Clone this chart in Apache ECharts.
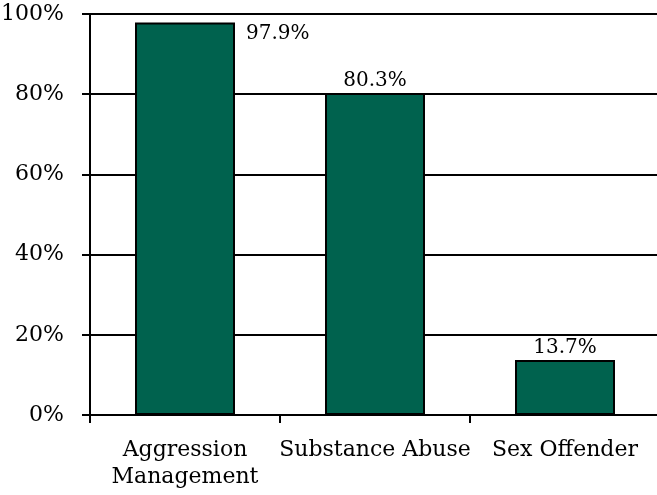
<!DOCTYPE html>
<html><head><meta charset="utf-8">
<script src="https://cdn.jsdelivr.net/npm/echarts@6/dist/echarts.min.js"></script>
<style>html,body{margin:0;padding:0;background:#fff}#c{width:657px;height:495px}</style>
</head><body><div id="c"></div>
<script>
var categories = ["Aggression\nManagement", "Substance Abuse", "Sex Offender"];
var values = [97.9, 80.3, 13.7];
var yTicks = [0, 20, 40, 60, 80, 100];

var FONT = "DejaVu Serif";
var chart = echarts.init(document.getElementById('c'), null, {renderer: 'canvas'});
var data = values.map(function (v, i) {
  var item = {value: v};
  if (i === 0) {
    item.label = {position: [111, 1], align: 'left', verticalAlign: 'top'};
  }
  return item;
});
chart.setOption({
  animation: false,
  grid: {left: 90, top: 14, width: 570, height: 401, containLabel: false, outerBoundsMode: 'none'},
  xAxis: {
    type: 'category',
    data: categories,
    axisLine: {lineStyle: {color: '#000', width: 2}},
    axisTick: {show: true, length: 8, lineStyle: {color: '#000', width: 2}},
    axisLabel: {color: '#000', fontFamily: FONT, fontSize: 22, margin: 22, lineHeight: 27, interval: 0}
  },
  yAxis: {
    type: 'value', min: yTicks[0], max: yTicks[yTicks.length - 1], interval: 20,
    axisLine: {show: true, lineStyle: {color: '#000', width: 2}},
    axisTick: {show: true, length: 8, lineStyle: {color: '#000', width: 2}},
    splitLine: {show: true, lineStyle: {color: '#000', width: 2}},
    axisLabel: {color: '#000', fontFamily: FONT, fontSize: 22, margin: 26, formatter: '{value}%'}
  },
  series: [{
    type: 'bar',
    data: data,
    barWidth: 100,
    itemStyle: {color: '#00624E', borderColor: '#000', borderWidth: 2},
    label: {show: true, position: 'top', distance: 2, color: '#000', fontFamily: FONT, fontSize: 20,
      formatter: function (p) { return p.value.toFixed(1) + '%'; }}
  }]
});
</script></body></html>
